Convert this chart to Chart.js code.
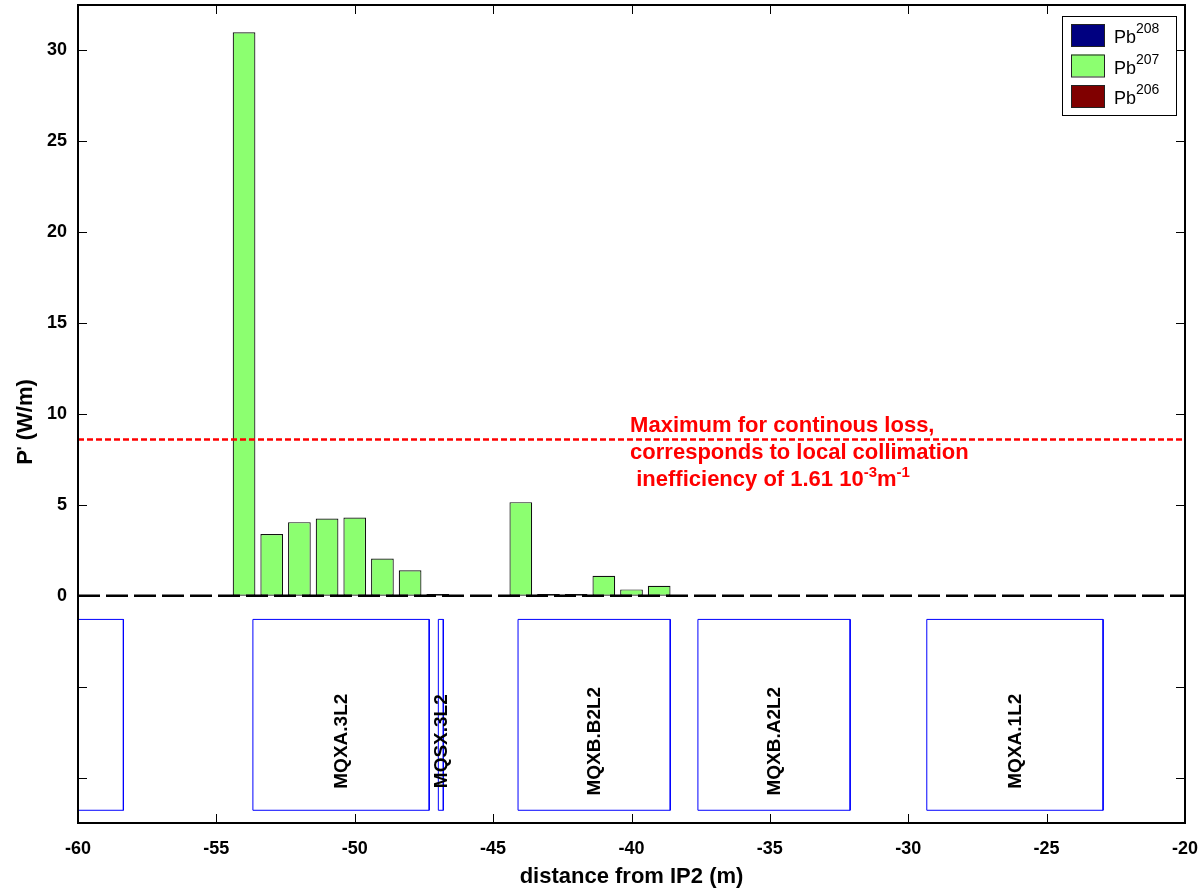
<!DOCTYPE html>
<html>
<head>
<meta charset="utf-8">
<script src="https://cdn.jsdelivr.net/npm/chart.js@4.4.1/dist/chart.umd.min.js"></script>
<style>
  html, body { margin: 0; background: #fff; }
  canvas { display: block; }
</style>
</head>
<body>
<canvas id="c" width="1203" height="893"></canvas>
<script>
// ── Données ──────────────────────────────────────────────────
// centre des bacs (m depuis IP2) et puissance déposée (W/m)
const BIN_X = [-54, -53, -52, -51, -50, -49, -48, -47, -46, -45, -44, -43, -42, -41, -40, -39];
const PB207 = [31.0, 3.4, 4.05, 4.25, 4.3, 2.05, 1.4, 0.1, 0, 0, 5.15, 0.1, 0.1, 1.1, 0.35, 0.55];
const PB208 = [];
const PB206 = [];
const ISOTOPES = ['208', '207', '206'];
const ISO_COLORS = ['#000080', '#8cff70', '#800000'];

// aimants (boîtes bleues sous l'axe)
const MAGNETS = ['', 'MQXA.3L2', 'MQSX.3L2', 'MQXB.B2L2', 'MQXB.A2L2', 'MQXA.1L2'];
const MAG_START = [-61.5, -53.68, -46.98, -44.10, -37.60, -29.33];
const MAG_END = [-58.36, -47.31, -46.80, -38.60, -32.10, -22.96];
const MAG_TOP = -1.3, MAG_BOTTOM = -11.8, MAG_LABEL_Y = -8.0;

// lignes horizontales
const ZERO_X = [-60, -20];
const LIMIT_W = 8.6;
const LIMIT_TEXT_X = -40.05;

// graduations
const X_TICKS = [-60, -55, -50, -45, -40, -35, -30, -25, -20];
const Y_TICKS = [-10, -5, 0, 5, 10, 15, 20, 25, 30];

const FONT = '"Liberation Sans", Arial, Helvetica, sans-serif';

// ── Jeux de données ──────────────────────────────────────────
const magnetSets = MAGNETS.map((name, i) => ({
  type: 'line',
  label: name || 'mag',
  data: [
    { x: MAG_START[i], y: MAG_TOP }, { x: MAG_END[i], y: MAG_TOP },
    { x: MAG_END[i], y: MAG_BOTTOM }, { x: MAG_START[i], y: MAG_BOTTOM },
    { x: MAG_START[i], y: MAG_TOP }
  ],
  borderColor: '#0000ff', borderWidth: 1, pointRadius: 0, fill: false, tension: 0
}));

const datasets = [
  {
    type: 'line', label: 'zero',
    data: ZERO_X.map(x => ({ x, y: 0 })),
    borderColor: '#000', borderWidth: 2.5, borderDash: [22, 6], pointRadius: 0
  },
  {
    type: 'line', label: 'limit',
    data: ZERO_X.map(x => ({ x, y: LIMIT_W })),
    borderColor: '#ff0000', borderWidth: 2.5, borderDash: [6, 3], pointRadius: 0
  },
  ...magnetSets,
  ...[PB208, PB207, PB206].map((vals, i) => ({
    type: 'bar', label: 'Pb' + ISOTOPES[i],
    data: vals.map((v, k) => ({ x: BIN_X[k], y: v })),
    backgroundColor: ISO_COLORS[i], borderColor: '#111', borderWidth: 1.2,
    borderSkipped: false, grouped: false, categoryPercentage: 1, barPercentage: 0.82
  }))
];

// ── Dessins à la MATLAB : cadre, ticks internes, textes ──────
function supLine(ctx, parts, x, y) {
  let cx = x;
  parts.forEach(p => {
    ctx.font = p.f;
    ctx.fillText(p.t, cx, y - (p.dy || 0));
    cx += ctx.measureText(p.t).width;
  });
  return cx - x;
}
function supWidth(ctx, parts) {
  return parts.reduce((w, p) => { ctx.font = p.f; return w + ctx.measureText(p.t).width; }, 0);
}

const matlabLook = {
  id: 'matlabLook',
  afterDraw(chart) {
    const { ctx, chartArea: a, scales: { x: xs, y: ys } } = chart;
    ctx.save();

    // cadre
    ctx.strokeStyle = '#000';
    ctx.lineWidth = 2;
    ctx.strokeRect(a.left, a.top, a.right - a.left, a.bottom - a.top);

    // ticks vers l'intérieur sur les 4 côtés
    ctx.lineWidth = 1;
    ctx.beginPath();
    X_TICKS.forEach(v => {
      const px = Math.round(xs.getPixelForValue(v)) + 0.5;
      ctx.moveTo(px, a.bottom); ctx.lineTo(px, a.bottom - 9);
      ctx.moveTo(px, a.top); ctx.lineTo(px, a.top + 9);
    });
    Y_TICKS.forEach(v => {
      const py = Math.round(ys.getPixelForValue(v)) + 0.5;
      ctx.moveTo(a.left, py); ctx.lineTo(a.left + 9, py);
      ctx.moveTo(a.right, py); ctx.lineTo(a.right - 9, py);
    });
    ctx.stroke();

    // noms des aimants, verticaux
    ctx.fillStyle = '#000';
    ctx.font = 'bold 19px ' + FONT;
    ctx.textAlign = 'center';
    ctx.textBaseline = 'middle';
    MAGNETS.forEach((name, i) => {
      if (!name) return;
      const cx = xs.getPixelForValue((MAG_START[i] + MAG_END[i]) / 2);
      const cy = ys.getPixelForValue(MAG_LABEL_Y);
      ctx.save();
      ctx.translate(cx, cy);
      ctx.rotate(-Math.PI / 2);
      ctx.fillText(name, 0, 1);
      ctx.restore();
    });

    // annotation rouge
    ctx.fillStyle = '#ff0000';
    ctx.textAlign = 'left';
    ctx.textBaseline = 'alphabetic';
    const tx = xs.getPixelForValue(LIMIT_TEXT_X);
    const ty = ys.getPixelForValue(LIMIT_W);
    const big = 'bold 22px ' + FONT, small = 'bold 15px ' + FONT;
    supLine(ctx, [{ t: 'Maximum for continous loss,', f: big }], tx, ty - 7);
    supLine(ctx, [{ t: 'corresponds to local collimation', f: big }], tx, ty + 20);
    supLine(ctx, [
      { t: ' inefficiency of 1.61 10', f: big },
      { t: '-3', f: small, dy: 9 },
      { t: 'm', f: big },
      { t: '-1', f: small, dy: 9 }
    ], tx, ty + 47);

    // titres des axes
    ctx.fillStyle = '#000';
    ctx.font = 'bold 22px ' + FONT;
    ctx.textAlign = 'center';
    ctx.textBaseline = 'middle';
    ctx.fillText('distance from IP2 (m)', (a.left + a.right) / 2, 877);

    const yParts = [
      { t: 'P', f: 'bold 22px ' + FONT },
      { t: '\'', f: 'bold 16px ' + FONT, dy: 3 },
      { t: ' (W/m)', f: 'bold 22px ' + FONT }
    ];
    ctx.save();
    ctx.translate(24, 422);
    ctx.rotate(-Math.PI / 2);
    ctx.textAlign = 'left';
    ctx.textBaseline = 'alphabetic';
    supLine(ctx, yParts, -supWidth(ctx, yParts) / 2, 8);
    ctx.restore();

    // légende en haut à droite
    const lx = 1062.5, ly = 16.5, lw = 114, lh = 99;
    ctx.fillStyle = '#fff';
    ctx.fillRect(lx, ly, lw, lh);
    ctx.strokeStyle = '#000';
    ctx.lineWidth = 1;
    ctx.strokeRect(lx, ly, lw, lh);
    ISOTOPES.forEach((iso, i) => {
      const top = 24 + i * 30.5;
      ctx.fillStyle = ISO_COLORS[i];
      ctx.fillRect(1071, top, 33, 22);
      ctx.strokeStyle = '#222';
      ctx.strokeRect(1071.5, top + 0.5, 33, 22);
      ctx.fillStyle = '#000';
      ctx.textAlign = 'left';
      ctx.textBaseline = 'alphabetic';
      supLine(ctx, [
        { t: 'Pb', f: '18px ' + FONT },
        { t: iso, f: '14px ' + FONT, dy: 10 }
      ], 1114, top + 19);
    });

    ctx.restore();
  }
};

new Chart(document.getElementById('c'), {
  type: 'bar',
  data: { datasets },
  options: {
    responsive: false,
    animation: false,
    events: [],
    layout: { padding: { top: 5, right: 18, left: 0, bottom: 0 } },
    plugins: { legend: { display: false }, tooltip: { enabled: false } },
    scales: {
      x: {
        type: 'linear', min: -60, max: -20, offset: false,
        afterBuildTicks: s => { s.ticks = X_TICKS.map(value => ({ value })); },
        afterFit: s => { s.height = 70; s.paddingLeft = 0; s.paddingRight = 0; },
        grid: { display: false, drawTicks: false, offset: false },
        border: { display: false },
        ticks: { color: '#000', padding: 15, autoSkip: false, maxRotation: 0, font: { family: FONT, size: 18, weight: 'bold' } }
      },
      y: {
        type: 'linear', min: -12.5, max: 32.5,
        afterBuildTicks: s => { s.ticks = Y_TICKS.map(value => ({ value })); },
        afterFit: s => { s.width = 78; s.paddingTop = 0; s.paddingBottom = 0; },
        grid: { display: false, drawTicks: false },
        border: { display: false },
        ticks: { color: '#000', padding: 11, autoSkip: false, font: { family: FONT, size: 18, weight: 'bold' },
          callback: v => v < 0 ? '' : String(v) }
      }
    }
  },
  plugins: [matlabLook]
});
</script>
</body>
</html>
